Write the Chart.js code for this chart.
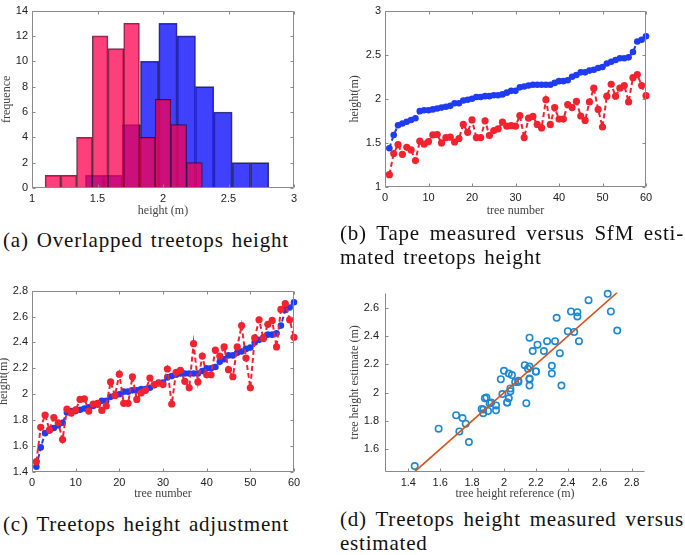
<!DOCTYPE html>
<html>
<head>
<meta charset="utf-8">
<title>Treetops height</title>
<script src="https://cdn.jsdelivr.net/npm/chart.js@4.4.0/dist/chart.umd.min.js"></script>
<style>
  html, body { margin: 0; padding: 0; background: #fff; }
  body { width: 685px; height: 555px; position: relative; overflow: hidden; }
  canvas { position: absolute; }
  .cap {
    position: absolute;
    font-family: 'Liberation Serif', serif;
    font-size: 21px;
    line-height: 24px;
    letter-spacing: 0.8px;
    word-spacing: 2px;
    color: #111;
    white-space: nowrap;
  }
  .just { text-align: justify; text-align-last: justify; }
</style>
</head>
<body>
<canvas id="histChart" width="310" height="222" style="left:0;top:0"></canvas>
<canvas id="tapeChart" width="337" height="222" style="left:348px;top:0"></canvas>
<canvas id="adjustChart" width="313" height="225" style="left:-3px;top:280px"></canvas>
<canvas id="scatterChart" width="337" height="225" style="left:348px;top:280px"></canvas>

<div class="cap" style="left:3px;top:228px">(a) Overlapped treetops height</div>
<div class="cap" style="left:340px;top:221px;width:344px">
  <div class="just">(b) Tape measured versus SfM esti-</div>
  <div>mated treetops height</div>
</div>
<div class="cap" style="left:3px;top:512px">(c) Treetops height adjustment</div>
<div class="cap" style="left:340px;top:507px;width:344px">
  <div class="just">(d) Treetops height measured versus</div>
  <div>estimated</div>
</div>

<script>
// --- Histogram (a) ---
const sfmBinCenters = [1.16, 1.28, 1.40, 1.52, 1.64, 1.76, 1.88, 2.00, 2.12, 2.24];
const sfmCounts = [1, 1, 4, 12, 11, 13, 4, 7, 5, 2];
const tapeBinCenters = [1.478, 1.618, 1.758, 1.898, 2.038, 2.178, 2.318, 2.458, 2.598, 2.738];
const tapeCounts = [1, 1, 5, 10, 13, 12, 8, 6, 2, 2];

// --- Per tree series (b), (c), (d) ---
const treeNumbers = [1, 2, 3, 4, 5, 6, 7, 8, 9, 10, 11, 12, 13, 14, 15, 16, 17, 18, 19, 20,
  21, 22, 23, 24, 25, 26, 27, 28, 29, 30, 31, 32, 33, 34, 35, 36, 37, 38, 39, 40,
  41, 42, 43, 44, 45, 46, 47, 48, 49, 50, 51, 52, 53, 54, 55, 56, 57, 58, 59, 60];

const tapeHeights = [1.44, 1.59, 1.70, 1.72, 1.74, 1.76, 1.78, 1.86, 1.87, 1.87,
  1.88, 1.89, 1.90, 1.91, 1.92, 1.95, 1.95, 1.98, 1.99, 2.00,
  2.02, 2.02, 2.03, 2.03, 2.04, 2.04, 2.05, 2.07, 2.09, 2.09,
  2.13, 2.14, 2.15, 2.16, 2.16, 2.16, 2.16, 2.16, 2.18, 2.20,
  2.20, 2.21, 2.25, 2.27, 2.30, 2.30, 2.32, 2.33, 2.35, 2.36,
  2.40, 2.42, 2.44, 2.46, 2.46, 2.47, 2.53, 2.65, 2.67, 2.71];

const sfmHeights = [1.14, 1.38, 1.48, 1.37, 1.45, 1.42, 1.30, 1.52, 1.485, 1.515,
  1.59, 1.595, 1.50, 1.56, 1.565, 1.51, 1.55, 1.71, 1.62, 1.76,
  1.56, 1.56, 1.75, 1.585, 1.64, 1.66, 1.735, 1.69, 1.695, 1.69,
  1.81, 1.56, 1.78, 1.80, 1.71, 1.67, 1.99, 1.71, 1.90, 1.77,
  1.77, 1.935, 1.90, 1.97, 1.805, 1.755, 1.965, 2.12, 1.88, 1.68,
  2.03, 2.165, 2.03, 2.12, 2.15, 1.965, 2.24, 2.275, 2.15, 2.035];

const adjustedHeights = [1.48, 1.745, 1.84, 1.725, 1.82, 1.78, 1.65, 1.885, 1.855, 1.88,
  1.96, 1.965, 1.87, 1.925, 1.93, 1.875, 1.91, 2.095, 1.99, 2.155,
  1.93, 1.93, 2.135, 1.96, 2.01, 2.03, 2.125, 2.075, 2.085, 2.075,
  2.195, 1.925, 2.17, 2.185, 2.10, 2.05, 2.39, 2.095, 2.295, 2.15,
  2.15, 2.34, 2.295, 2.365, 2.19, 2.135, 2.365, 2.53, 2.28, 2.05,
  2.435, 2.575, 2.43, 2.54, 2.57, 2.365, 2.655, 2.70, 2.575, 2.44];

const fitLineX = [1.44, 2.71];
const fitLineY = [1.44, 2.71];

const BLUE = '#1f3cf2';
const RED = '#f2222e';
const sansFont = { family: "'Liberation Sans', Arial, sans-serif", size: 11 };
const serifFont = { family: "'Liberation Serif', serif", size: 12 };

Chart.defaults.animation = false;
Chart.defaults.color = '#333';

function pairs(xs, ys) {
  return xs.map((x, i) => ({ x: x, y: ys[i] }));
}

function fmt(v) {
  return String(Math.round(v * 100) / 100);
}

/* MATLAB style frame: axis lines, optional box, inward ticks */
const framePlugin = {
  id: 'frame',
  afterDraw(chart, args, opts) {
    const { ctx, chartArea: a } = chart;
    const xs = chart.scales.x;
    const ys = chart.scales.y;
    const L = Math.round(a.left) + 0.5;
    const R = Math.round(a.right) - 0.5;
    const T = Math.round(a.top) + 0.5;
    const B = Math.round(a.bottom) - 0.5;
    const len = 3;
    ctx.save();
    ctx.strokeStyle = '#8a8a8a';
    ctx.lineWidth = 1;
    ctx.beginPath();
    ctx.moveTo(L, T);
    ctx.lineTo(L, B);
    ctx.lineTo(R, B);
    if (opts.box) {
      ctx.lineTo(R, T);
      ctx.lineTo(L, T);
    }
    xs.ticks.forEach(t => {
      const px = Math.round(xs.getPixelForValue(t.value)) + 0.5;
      ctx.moveTo(px, B); ctx.lineTo(px, B - len);
      if (opts.box) { ctx.moveTo(px, T); ctx.lineTo(px, T + len); }
    });
    ys.ticks.forEach(t => {
      const py = Math.round(ys.getPixelForValue(t.value)) + 0.5;
      ctx.moveTo(L, py); ctx.lineTo(L + len, py);
      if (opts.box) { ctx.moveTo(R, py); ctx.lineTo(R - len, py); }
    });
    ctx.stroke();
    ctx.restore();
  }
};

function axis(min, max, step, title, fixedSize, pad) {
  return {
    type: 'linear',
    min: min,
    max: max,
    offset: false,
    grid: { display: false, drawTicks: false },
    border: { display: false },
    ticks: {
      stepSize: step,
      includeBounds: false,
      autoSkip: false,
      maxRotation: 0,
      padding: pad,
      font: sansFont,
      color: '#222',
      callback: v => fmt(v)
    },
    title: { display: true, text: title, font: serifFont, color: '#444', padding: { top: 0, bottom: 4 } },
    afterFit: s => {
      if (s.isHorizontal()) s.height = fixedSize; else s.width = fixedSize;
    }
  };
}

function baseOptions(padding, box) {
  return {
    responsive: false,
    events: [],
    layout: { padding: padding },
    plugins: {
      legend: { display: false },
      tooltip: { enabled: false },
      frame: { box: box }
    }
  };
}

/* ---------------------- (a) histogram ---------------------- */
const histOptions = baseOptions({ top: 5, right: 16, left: 0, bottom: 0 }, true);
histOptions.scales = {
  x: axis(1, 3, 0.5, 'height (m)', 34, 4),
  x2: { type: 'linear', min: 1, max: 3, offset: false, display: false, ticks: { stepSize: 0.5 } },
  y: axis(0, 14, 2, 'frequence', 32, 4)
};

new Chart(document.getElementById('histChart'), {
  type: 'bar',
  data: {
    datasets: [
      {
        data: pairs(sfmBinCenters, sfmCounts),
        xAxisID: 'x',
        backgroundColor: 'rgba(250,0,80,0.75)',
        borderColor: 'rgba(50,0,25,0.75)',
        borderWidth: 1,
        barPercentage: 1,
        categoryPercentage: 1,
        grouped: false
      },
      {
        data: pairs(tapeBinCenters, tapeCounts),
        xAxisID: 'x2',
        backgroundColor: 'rgba(0,0,255,0.75)',
        borderColor: 'rgba(0,0,60,0.75)',
        borderWidth: 1,
        barPercentage: 1,
        categoryPercentage: 1,
        grouped: false
      }
    ]
  },
  options: histOptions,
  plugins: [framePlugin]
});

/* ---------------------- (b) tape vs SfM ---------------------- */
function seriesStyle(color, radius) {
  return {
    borderColor: color,
    backgroundColor: color,
    borderWidth: 2,
    borderDash: [5, 3],
    pointRadius: radius,
    pointBorderWidth: 0,
    tension: 0,
    clip: false
  };
}

const tapeOptions = baseOptions({ top: 6, right: 39, left: 0, bottom: 0 }, true);
tapeOptions.scales = {
  x: axis(0, 60, 10, 'tree number', 35, 4),
  y: axis(1, 3, 0.5, 'height(m)', 37, 4)
};

new Chart(document.getElementById('tapeChart'), {
  type: 'line',
  data: {
    datasets: [
      Object.assign({ data: pairs(treeNumbers, sfmHeights) }, seriesStyle(RED, 3.6)),
      Object.assign({ data: pairs(treeNumbers, tapeHeights) }, seriesStyle(BLUE, 3.3))
    ]
  },
  options: tapeOptions,
  plugins: [framePlugin]
});

/* ---------------------- (c) adjustment ---------------------- */
const adjustOptions = baseOptions({ top: 9, right: 16, left: 0, bottom: 0 }, true);
adjustOptions.scales = {
  x: axis(0, 60, 10, 'tree number', 33, 4),
  y: axis(1.4, 2.8, 0.2, 'height(m)', 35, 4)
};

new Chart(document.getElementById('adjustChart'), {
  type: 'line',
  data: {
    datasets: [
      Object.assign({ data: pairs(treeNumbers, adjustedHeights) }, seriesStyle(RED, 3.6)),
      Object.assign({ data: pairs(treeNumbers, tapeHeights) }, seriesStyle(BLUE, 3.3))
    ]
  },
  options: adjustOptions,
  plugins: [framePlugin]
});

/* ---------------------- (d) measured vs estimated ---------------------- */
const scatterOptions = baseOptions({ top: 9, right: 40, left: 0, bottom: 0 }, false);
scatterOptions.scales = {
  x: axis(1.254, 2.884, 0.2, 'tree height reference (m)', 33, 4),
  y: axis(1.438, 2.709, 0.2, 'tree height estimate (m)', 37, 6)
};

new Chart(document.getElementById('scatterChart'), {
  type: 'scatter',
  data: {
    datasets: [
      {
        data: pairs(fitLineX, fitLineY),
        showLine: true,
        borderColor: '#D95319',
        borderWidth: 1.6,
        pointRadius: 0
      },
      {
        data: pairs(tapeHeights, adjustedHeights),
        borderColor: '#1b8ad6',
        backgroundColor: 'rgba(255,255,255,0)',
        pointRadius: 3.2,
        pointBorderWidth: 1.6,
        clip: false
      }
    ]
  },
  options: scatterOptions,
  plugins: [framePlugin]
});
</script>
</body>
</html>
